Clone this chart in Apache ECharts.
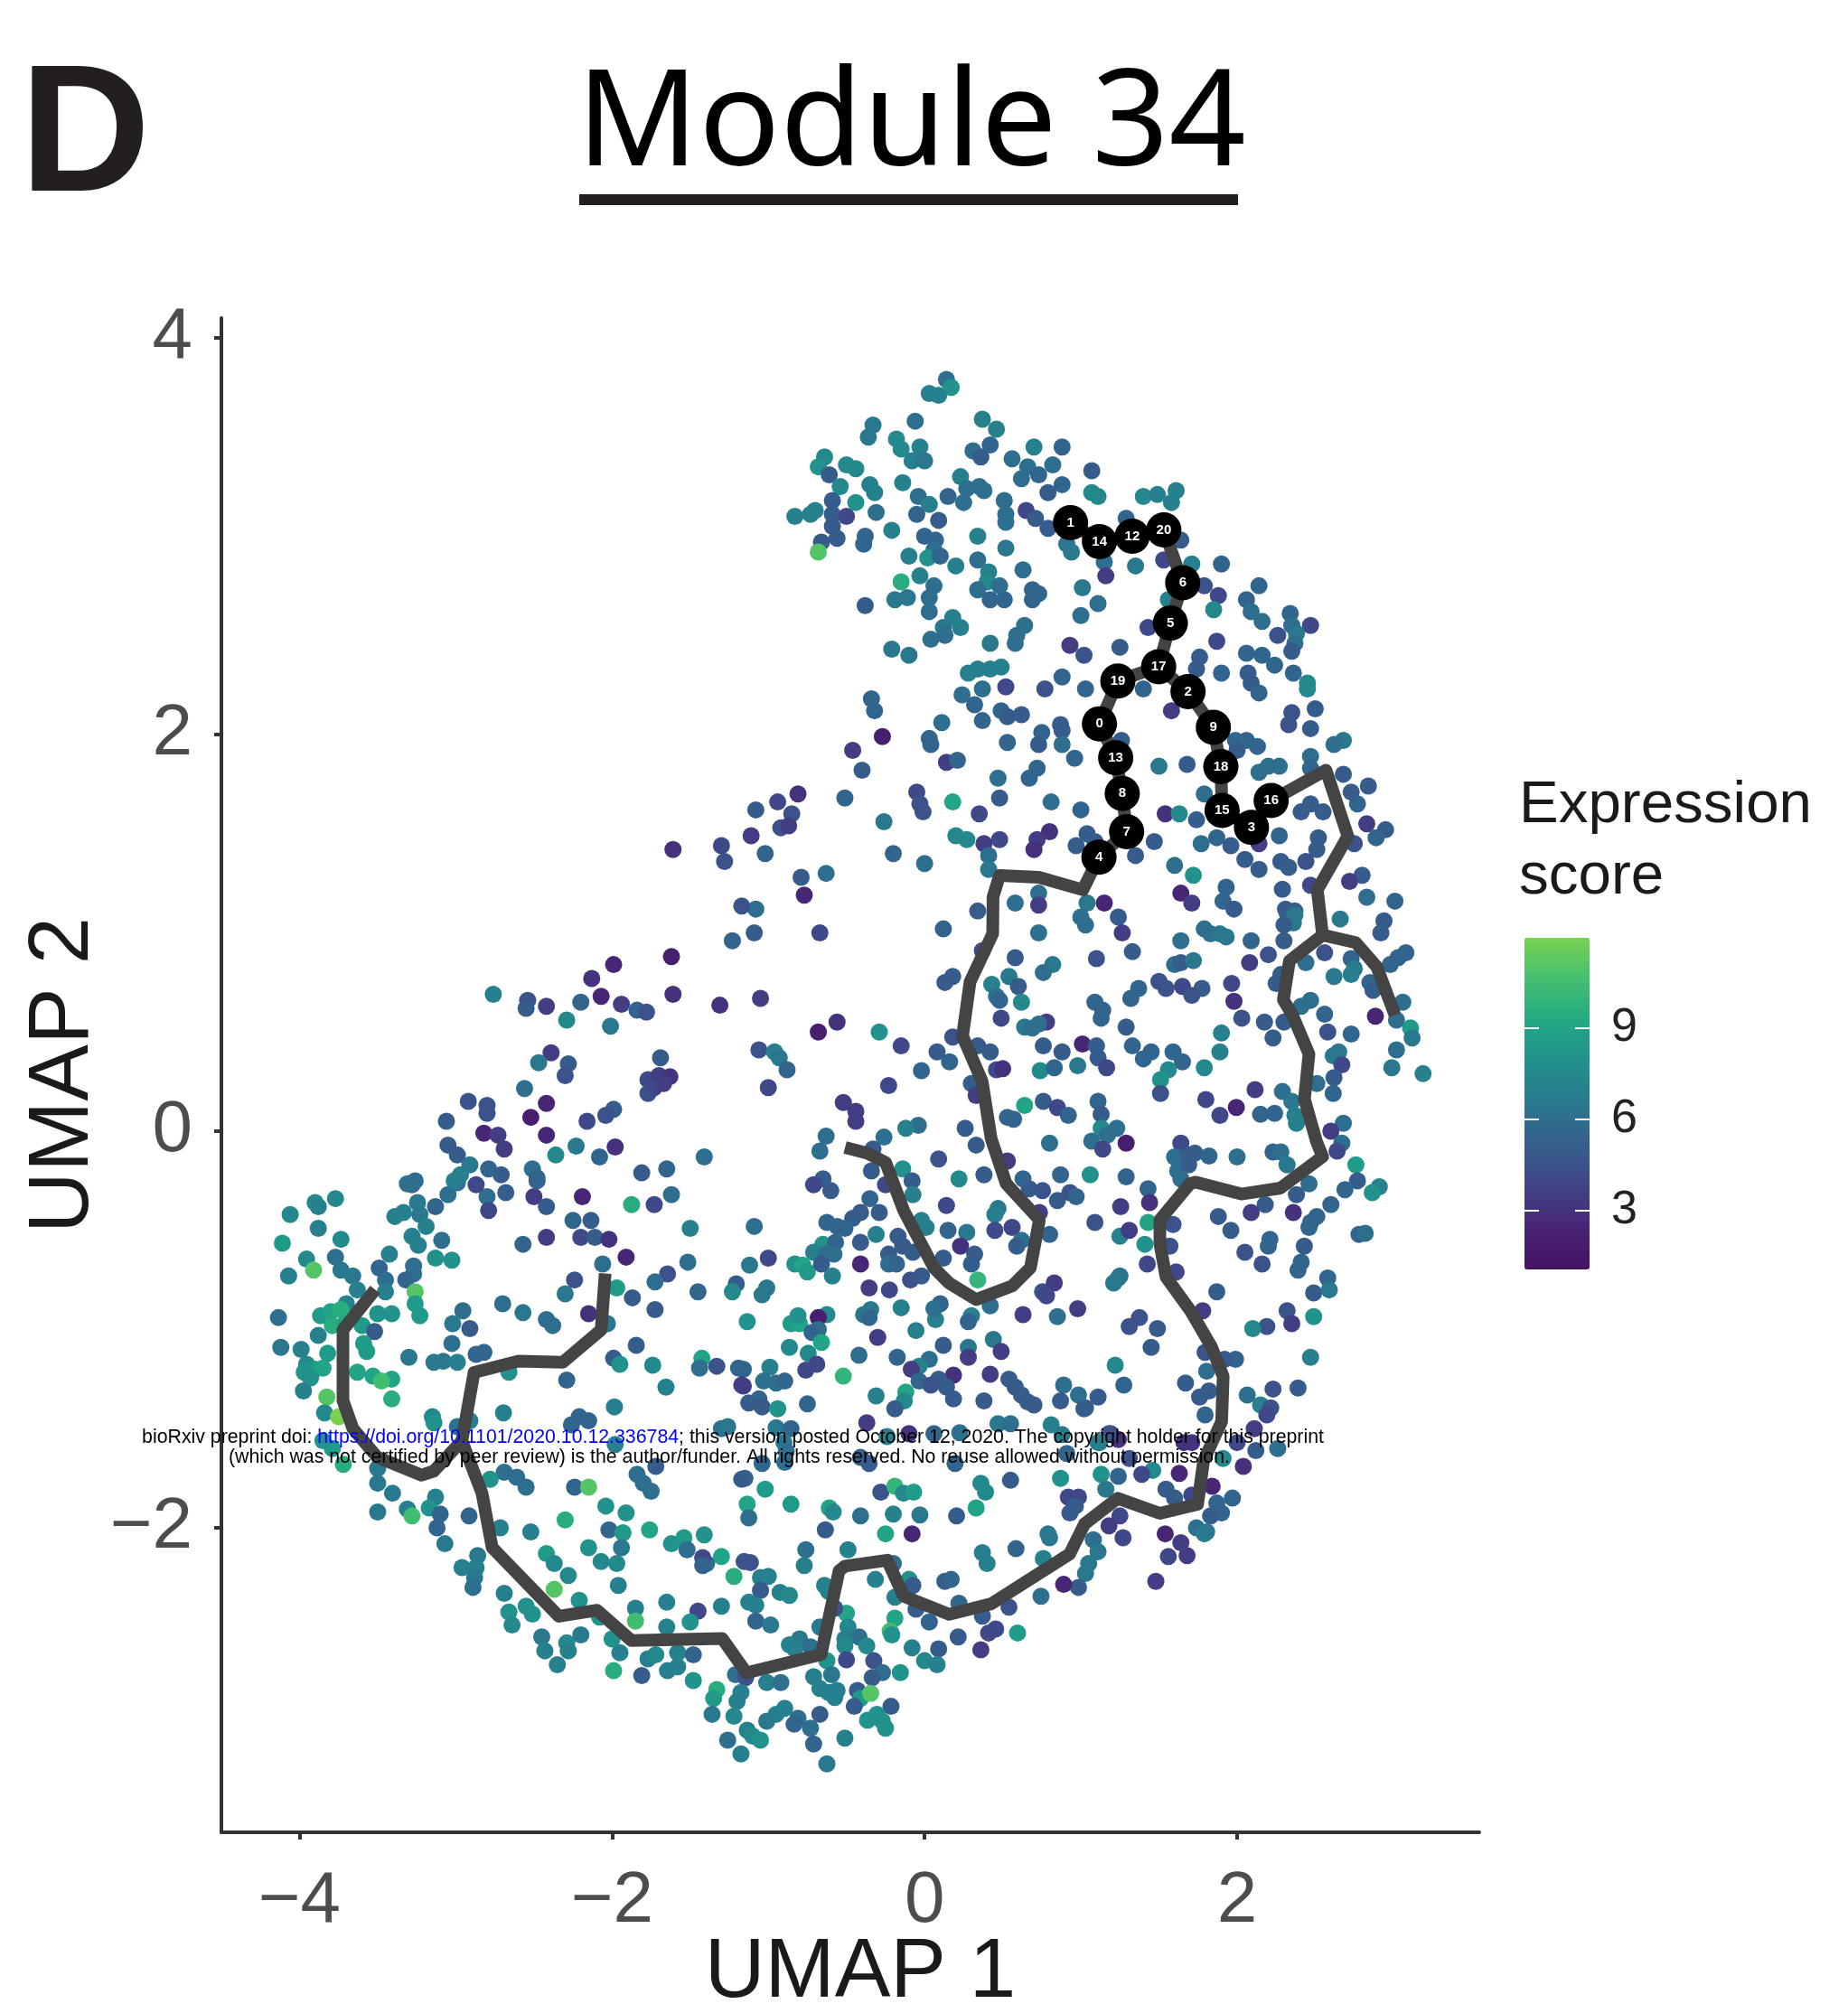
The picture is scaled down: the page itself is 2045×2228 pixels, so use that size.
<!DOCTYPE html>
<html lang="en">
<head>
    <meta charset="UTF-8">
    <title>Module 34</title>
    <style>
        html,body{margin:0;background:#fff}
        #main{width:2045px;height:2228px}
    </style>
</head>
<body>
<div id="main"></div>
<script src="https://cdn.jsdelivr.net/npm/echarts@6/dist/echarts.min.js"></script>
<script>
    // cells: [UMAP 1, UMAP 2, expression score]
    const cellsTop=[
        [0.03,3.72,7],[0.09,3.71,7],[0.14,3.79,6],[0.17,3.75,8],[-0.33,3.56,6.5],[-0.36,3.50,6.5],[-0.06,3.58,6],[0.37,3.59,7],[0.46,3.54,7],[0.42,3.46,5.5],[0.31,3.43,6],[0.36,3.40,5],[0.70,3.45,7],[0.88,3.45,5.5],[-0.18,3.49,7.5],[-0.15,3.44,7.5],[-0.03,3.45,7],[-0.08,3.38,7],[0,3.38,6.5],[-0.64,3.40,7.5],[-0.68,3.35,8],[-0.50,3.36,7.5],[-0.44,3.34,7.5],[0.56,3.39,6],[0.66,3.35,6],[0.62,3.29,6],[0.82,3.36,6],[1.07,3.33,5],[0.23,3.30,7],[0.27,3.24,6],[0.35,3.25,6],[0.38,3.23,6],[0.73,3.31,5.5],[0.88,3.26,5.5],[0.79,3.22,5],[-0.61,3.31,5],[-0.54,3.25,7.5],[-0.35,3.26,7],[-0.32,3.22,7],[-0.14,3.27,7],[-0.04,3.20,6],[0.15,3.20,5.5],[0.25,3.17,6],[0.03,3.16,7],[-0.05,3.11,5.5],[1.07,3.22,7.5],[1.11,3.20,7.5],[1.40,3.20,7.5],[1.49,3.21,7],[1.61,3.23,7],[1.58,3.17,7],[-0.44,3.17,8],[-0.59,3.18,5],[-0.70,3.13,7],[-0.83,3.10,7],[-0.73,3.11,7],[-0.59,3.11,5],[-0.50,3.10,4],[-0.31,3.12,6],[0.51,3.18,6],[0.52,3.11,6],[0.52,3.07,6],[0.65,3.13,4],[0.71,3.09,5],[0.09,3.08,5],[0.79,3.04,5],[-0.59,3.05,5],[-0.21,3.03,7],[-0.38,3.00,5.5],[-0.39,2.96,5.5],[-0.56,2.99,5],[-0.66,2.97,5],[-0.68,2.92,11],[0,3,5.5],[0.07,2.98,5.5],[0.34,3.00,7],[0.52,2.94,6.5],[0.91,2.96,6.5],[0.94,2.92,6.5],[1.29,3.09,5.5],[1.64,2.98,5],
        [0.06,2.93,6],[-0.10,2.90,7],[0.02,2.89,8],[0.10,2.90,5.5],[0.34,2.88,6],[0.20,2.85,7],[-0.03,2.80,7],[0.63,2.83,6],[1.15,2.87,6],[1.16,2.80,3.5],[1.35,2.85,6.5],[1.53,2.88,4],[1.71,2.86,7],[1.90,2.86,5.5],[0.41,2.82,7],[-0.15,2.77,9.5],[0.40,2.77,7.5],[0.48,2.75,6],[0.34,2.73,6],[0.42,2.68,5.5],[0.51,2.68,5.5],[0.69,2.73,5.5],[0.73,2.71,5.5],[0.69,2.68,5.5],[1.01,2.74,6.5],[0.06,2.75,6],[0.03,2.69,6],[-0.11,2.69,6.5],[-0.19,2.68,6.5],[-0.38,2.65,5],[1.11,2.66,6],[1.00,2.60,6],[2.14,2.75,5.5],[1.79,2.75,4.5],[1.88,2.70,4],[2.06,2.68,5.5],[1.85,2.63,7.5],[1.56,2.68,7],[2.09,2.62,6],[2.16,2.57,6],[0.03,2.62,6],[0.18,2.59,7],[0.23,2.54,7],[0.12,2.54,6.5],[0.04,2.48,6],[0.13,2.50,6],[0.64,2.55,6],[0.59,2.50,6],[0.58,2.46,6],[0.42,2.46,6.5],[2.34,2.61,5.5],[2.35,2.55,6],[2.47,2.55,4],[2.26,2.50,4.5],[2.38,2.51,6.5],[2.37,2.46,6],[2.35,2.42,5],[1.87,2.47,4],[1.43,2.54,4],[0.93,2.45,3.5],[1.02,2.40,4.5],[1.25,2.44,5],[-0.21,2.43,6.5],[-0.10,2.40,6.5],[2.06,2.41,5.5],[2.16,2.40,5.5],[2.24,2.35,5.5],[2.36,2.31,5.5],[2.45,2.26,7.5],[2.45,2.23,7.5],[1.76,2.39,5],[1.74,2.33,5],[1.90,2.31,5.5],[2.07,2.31,5],[2.09,2.26,5],[2.14,2.21,5.5]
    ];
    const cellsUpperMid=[
        [0.49,2.34,7],[0.42,2.33,7],[0.34,2.33,7],[0.28,2.31,7],[0.88,2.29,5.5],[0.77,2.23,4.5],[1.03,2.23,5.5],[0.52,2.24,4],[0.37,2.23,6],[0.24,2.20,6],[0.32,2.15,5.5],[1.40,2.23,5.5],[1.58,2.12,3.5],[-0.34,2.18,5.5],[-0.32,2.12,5.5],[0.49,2.12,5.5],[0.53,2.09,5],[0.62,2.10,5],[0.37,2.07,5.5],[0.11,2.06,6],[2.35,2.11,4.5],[2.50,2.13,5],[2.33,2.05,4.5],[2.47,2.03,5],[0.87,2.05,5],[0.75,2.01,5.5],[0.88,2.02,5],[0.73,1.95,5],[0.88,1.95,6],[0.03,1.98,5.5],[0.04,1.95,5.5],[-0.27,1.99,2],[0.53,1.96,5.5],[-0.46,1.92,3.5],[1.26,1.97,5],[1.99,1.97,5.5],[2.06,1.97,5.5],[2.13,1.94,5.5],[2.00,1.92,5],[2.68,1.97,6.5],[2.62,1.95,6],[0.96,1.88,5.5],[0.14,1.86,3.5],[0.21,1.87,5.5],[-0.40,1.82,5],[1.50,1.84,6.5],[1.68,1.85,5],[2.47,1.89,6],[2.14,1.81,6],[2.20,1.84,6],[2.27,1.84,6],[2.47,1.83,5.5],[2.68,1.80,5],[0.72,1.83,5.5],[0.67,1.78,5.5],[0.47,1.78,6],[2.84,1.74,5],[-0.05,1.71,4],[-0.03,1.65,4.5],[-0.01,1.61,4.5],[-0.81,1.70,3],[-0.94,1.66,4],[-0.85,1.60,4.5],[-1.08,1.62,5],[-0.51,1.68,5.5],[0.48,1.68,5],[0.18,1.66,9],[0.81,1.66,6],[1.00,1.62,5.5],[0.35,1.60,4],[-0.26,1.56,6.5],[1.54,1.60,3],[1.63,1.60,7.5],[1.74,1.57,5],[1.79,1.70,6],[2.47,1.65,5],[2.55,1.61,5],[2.41,1.61,5],[2.77,1.65,5.5],[2.73,1.71,5],[-0.92,1.53,4.5],[-0.87,1.54,3.5],[-1.11,1.49,3.5],[0.20,1.49,7.5],[0.27,1.47,7.5],[0.48,1.47,4],[0.38,1.45,3.5],[0.80,1.51,3],[0.72,1.47,3.5],[0.70,1.42,3],[1.04,1.50,5],[0.97,1.44,5],[1.09,1.46,5],[1.47,1.46,5],[2.83,1.55,3.5],[2.95,1.52,5],[2.89,1.48,5.5],[2.27,1.49,5.5],[1.77,1.45,6],[1.87,1.48,5.5],[1.96,1.44,5],[2.14,1.45,3.5],[2.52,1.48,5],[2.75,1.45,4.5],[2.51,1.42,5],[-1.02,1.40,5.5],[-0.20,1.40,5.5],[1.35,1.39,5],[0.41,1.39,6],[2.05,1.37,5],[2.28,1.36,5],[2.44,1.36,4.5],[2.14,1.32,5],[0,1.35,6],[1.60,1.34,6],[0.41,1.32,6.5],[1.72,1.29,8],[2.33,1.33,5],[2.80,1.29,5],[-0.63,1.30,6],[-0.79,1.28,5],[-0.77,1.19,2.5],[2.72,1.26,3.5],[2.47,1.24,4],[2.29,1.22,5],[1.93,1.23,5.5],[1.64,1.20,2.5],[2.83,1.18,6],[3.01,1.16,5.5],[1.91,1.16,5.5],[1.71,1.15,3.5],[0.73,1.20,6],[0.58,1.15,6],[1.15,1.15,2.5],[1.04,1.15,6.5],[1.98,1.12,5],[-1.08,1.12,6],[0.34,1.11,5],[0.73,1.14,3.5],[2.31,1.12,5],[2.37,1.11,5]
    ];
    const cellsCenter=[
        [-1.09,1.00,5],[-0.67,1.00,4],[0.12,1.02,5.5],[0.73,1.00,6],[0.58,0.875,5],[0.37,0.91,4],[1.10,0.87,4.5],[1.00,1.08,6],[1.03,1.04,6],[0.82,0.84,6.5],[0.76,0.80,6],[0.54,0.78,6.5],[0.43,0.74,7],[0.60,0.73,5],[0.18,0.78,5],[0.13,0.75,5],[0.46,0.68,6],[0.48,0.66,5.5],[0.62,0.65,7.5],[1.09,0.65,5.5],[1.14,0.61,5.5],[1.13,0.57,5.5],[-1.05,0.67,3.5],[0.49,0.57,4],[0.78,0.55,3.5],[0.64,0.525,6.5],[0.69,0.52,6],[0.73,0.54,6],[-0.56,0.55,3],[-0.68,0.50,2],[-0.29,0.50,8],[0.18,0.475,4.5],[-1.06,0.41,4.5],[-0.96,0.40,7],[-0.93,0.37,6.5],[-0.88,0.31,5.5],[-0.15,0.43,4],[0.76,0.43,5],[1.01,0.44,2.5],[1.10,0.43,5],[0.88,0.40,5],[0.08,0.40,5],[0.16,0.35,5.5],[0.34,0.43,5],[0.42,0.40,5],[0.46,0.31,4],[0.50,0.315,3],[1.11,0.37,5],[1.165,0.32,4],[0.98,0.33,6.5],[0.74,0.305,7.5],[0.83,0.32,5.5],[-0.02,0.305,5.5],[-0.23,0.23,4],[-1.00,0.22,4],[0.30,0.24,5],[0.33,0.18,3.5],[-0.52,0.145,3.5],[-0.44,0.10,3.5],[-0.44,0.05,3.5],[0.64,0.13,9],[0.76,0.15,5],[0.85,0.12,4],[0.92,0.08,5.5],[1.11,0.15,5.5],[1.13,0.085,5],[0.53,0.07,5.5],[0.57,0.06,5.5],[-0.04,0.03,6],[-0.12,0.015,7],[0.26,0.015,5],[1.13,0.015,7.5],[1.23,0.015,6],[1.17,-0.02,6],[1.07,-0.05,6],[1.14,-0.09,4],[-0.63,-0.025,6],[-0.67,-0.10,6],[-0.26,-0.03,6],[0.33,-0.07,5],[0.80,-0.06,6],[0.09,-0.14,4.5],[-0.33,-0.09,5],[0.53,-0.15,3.5],[-0.14,-0.19,8],[-0.34,-0.20,5],[0.22,-0.24,7.5],[0.38,-0.22,5],[0.87,-0.22,5.5],[1.06,-0.22,8],[-0.08,-0.25,5],[-0.25,-0.27,4],[-0.075,-0.32,7],[-0.65,-0.24,5],[-0.71,-0.27,4],[-0.60,-0.30,5],[0.63,-0.24,5.5],[0.67,-0.29,5],[0.755,-0.30,4.5],[0.85,-0.35,5],[0.93,-0.31,4.5],[0.97,-0.33,5.5],[-0.35,-0.34,5.5],[0.14,-0.375,4],[0.735,-0.41,3.5],[0.47,-0.39,6.5],[0.45,-0.42,7],[-0.29,-0.41,5],[-0.41,-0.41,5],[-0.46,-0.44,5],[-0.02,-0.45,7],[0.01,-0.485,7],[1.09,-0.46,4.5],[-1.09,-0.48,6],[-0.625,-0.46,5.5],[-0.56,-0.48,5.5],[-0.51,-0.49,5.5],[0.15,-0.50,5.5],[0.27,-0.51,6.5],[0.45,-0.50,4],[0.56,-0.485,4],[0.80,-0.52,5.5],[-0.31,-0.52,7],[-0.17,-0.53,5],[0.62,-0.55,6],[-0.65,-0.57,8],[-0.41,-0.56,5],[-0.57,-0.56,5.5],[-0.71,-0.61,7],[0.23,-0.58,3],[0.59,-0.58,5],[1.25,-0.53,7],[-0.14,-0.58,5],[-0.58,-0.62,6],[-0.63,-0.62,6],[-0.075,-0.61,5],[-0.23,-0.62,5],[0.32,-0.62,5],[0.12,-0.64,5],[-1.00,-0.64,4],[-0.41,-0.67,2.5],[-1.12,-0.675,6.5],[-0.83,-0.67,8],[-0.78,-0.675,9],[-0.75,-0.71,8.5],[-0.66,-0.67,5],[-0.59,-0.73,7],[-0.23,-0.67,6],[-0.18,-0.67,5.5],[0.30,-0.67,5],[0.34,-0.75,10],[-0.02,-0.73,5],[-0.09,-0.75,4.5]
    ];
    const cellsRight=[
        [1.24,1.08,5],[1.265,1.00,3.5],[1.64,0.96,6],[1.33,0.905,5],[1.79,1.02,6],[1.83,0.995,6],[1.89,0.995,6.5],[1.93,0.98,6.5],[2.09,0.96,5.5],[2.20,0.89,4.5],[2.08,0.85,3.5],[2.30,0.96,5],[2.32,1.10,5],[2.37,1.09,6.5],[2.36,1.05,6.5],[2.30,1.04,5],[2.66,1.07,6.5],[2.94,1.06,5],[2.92,1.00,5],[1.60,0.84,6],[1.64,0.85,5],[1.72,0.86,6.5],[2.44,0.85,6],[2.56,0.90,4.5],[2.73,0.87,5.5],[2.75,0.82,6.5],[2.73,0.79,7],[2.62,0.78,6.5],[3.08,0.90,5.5],[3.03,0.875,5.5],[2.98,0.84,5.5],[2.28,0.79,5],[2.25,0.745,5],[2.85,0.75,5.5],[2.87,0.71,5],[1.50,0.755,4.5],[1.545,0.72,4.5],[1.65,0.73,4],[1.775,0.72,5],[1.71,0.685,4.5],[1.37,0.72,5.5],[1.32,0.67,5.5],[1.965,0.745,4],[1.98,0.655,3],[3.06,0.65,6],[2.47,0.66,6],[2.41,0.63,6],[2.885,0.58,2.5],[2.03,0.57,4.5],[2.56,0.59,5.5],[2.175,0.55,5],[2.30,0.55,5],[3.02,0.56,6],[1.29,0.525,5],[2.58,0.50,4.5],[2.73,0.49,5.5],[3.11,0.52,8.5],[3.12,0.47,6.5],[2.23,0.47,5],[1.90,0.495,7],[1.89,0.40,7],[1.33,0.43,5.5],[1.45,0.40,5.5],[1.40,0.365,5.5],[1.59,0.40,5.5],[1.65,0.35,5.5],[3.02,0.41,6],[2.65,0.40,6.5],[2.615,0.38,6.5],[2.67,0.335,4],[1.79,0.32,7.5],[1.56,0.31,7.5],[1.51,0.26,8],[2.99,0.32,6.5],[3.19,0.29,7],[2.62,0.27,5],[2.51,0.24,6],[2.115,0.21,3.5],[1.51,0.19,4.5],[2.615,0.19,5.5],[2.29,0.20,6],[1.80,0.16,4],[2.35,0.15,6.5],[1.995,0.12,2.5],[2.15,0.085,5.5],[2.24,0.09,5.5],[1.89,0.08,4],[2.37,0.08,7],[2.38,0.04,7],[2.68,0.04,6],[2.60,0,3.5],[1.29,-0.06,2],[2.67,-0.06,6],[2.64,-0.10,4],[1.64,-0.06,4],[2.23,-0.105,5.5],[2.28,-0.105,6],[1.60,-0.13,6],[1.69,-0.12,5],[1.73,-0.11,5],[1.82,-0.125,5.5],[2.00,-0.13,6],[2.32,-0.17,6.5],[2.76,-0.17,8.5],[1.62,-0.20,6],[1.69,-0.17,5],[1.29,-0.23,5.5],[2.77,-0.25,5],[1.64,-0.24,6],[1.43,-0.29,5.5],[2.46,-0.265,6],[2.69,-0.295,5.5],[2.91,-0.28,7],[2.865,-0.31,8],[2.38,-0.32,5],[1.44,-0.36,3],[1.255,-0.38,3.5],[2.18,-0.37,5],[2.09,-0.41,3.5],[2.60,-0.37,5.5],[2.36,-0.41,3],[1.88,-0.43,5],[2.51,-0.43,5.5],[2.47,-0.46,5.5],[1.96,-0.50,5],[1.59,-0.47,4.5],[1.43,-0.46,9],[1.31,-0.50,3.5],[1.41,-0.57,8],[1.57,-0.58,4.5],[2.46,-0.485,5.5],[2.78,-0.52,5.5],[2.82,-0.515,6],[2.21,-0.545,5.5],[2.20,-0.58,5.5],[2.43,-0.58,5],[2.05,-0.61,4.5],[1.425,-0.67,4],[2.16,-0.67,4.5],[2.41,-0.66,5.5],[2.39,-0.70,5.5],[1.61,-0.71,4],[1.25,-0.73,6],[2.58,-0.74,5.5],
        [1.24,-0.74,6.5],[1.21,-0.765,6.5],[1.87,-0.81,5],[2.59,-0.80,6.5],[2.49,-0.815,5],[1.78,-0.905,3.5],[2.32,-0.905,4.5],[2.35,-0.97,3.5],[2.49,-0.935,8],[2.19,-0.985,4.5],[2.10,-0.995,7.5],[1.375,-0.94,4.5],[1.31,-0.985,4.5],[1.49,-0.995,5],[1.45,-1.09,5],[1.795,-1.115,4.5],[1.99,-1.15,5.5],[1.92,-1.15,5],[2.47,-1.14,7],[1.22,-1.18,7.5],[1.275,-1.28,5.5],[1.805,-1.21,6],[1.67,-1.27,5],[1.76,-1.34,5],[1.82,-1.31,5],[2.23,-1.30,4.5],[2.39,-1.295,5],[2.065,-1.33,6],[2.15,-1.38,7],[2.215,-1.395,4.5],[2.19,-1.43,4],[1.795,-1.43,5.5],[1.11,-1.34,5],[1.03,-1.395,5],[2.11,-1.50,3.5],[2.00,-1.57,4],[2.12,-1.61,5],[2.26,-1.60,6],[1.19,-1.525,3.5],[1.24,-1.555,3],[1.11,-1.57,7],[1.66,-1.57,3],[1.71,-1.57,3],[1.31,-1.65,4.5],[1.91,-1.65,7.5],[2.04,-1.69,3],[1.46,-1.71,7.5],[1.39,-1.73,4],[1.63,-1.725,2.5],[1.13,-1.73,8],[1.24,-1.74,5.5],[1.84,-1.79,2.5],[1.545,-1.805,5],[1.16,-1.805,6.5],[1.60,-1.85,5],[1.71,-1.835,4],[1.97,-1.85,5.5],[1.87,-1.875,5.5],[1.90,-1.925,5.5],[1.83,-1.94,5],[1.25,-1.94,4],[1.18,-1.99,3.5],[1.74,-2.00,6],[1.79,-2.03,7],[1.805,-2.02,6.5],[1.54,-2.03,2.5],[1.27,-2.05,4],[1.08,-2.06,6],[1.11,-2.12,6.5],[1.64,-2.075,3.5],[1.56,-2.145,4],[1.68,-2.14,3.5],[1.05,-2.18,6.5],[1.48,-2.27,3.5],[1.03,-2.23,6.5]
    ];
    const cellsLowerMid=[
        [-0.355,-0.79,3.5],[-0.225,-0.80,4],[-1.01,-0.79,6.5],[-1.04,-0.825,6.5],[0.755,-0.81,4.5],[0.83,-0.765,3.5],[0.78,-0.83,4],[0.98,-0.895,3.5],[-0.15,-0.89,7],[0.42,-0.88,6],[0.10,-0.87,5.5],[0.07,-0.95,7],[0.06,-0.895,6],[0.30,-0.93,7],[0.28,-0.96,5.5],[0.63,-0.925,3.5],[0.85,-0.935,6],[-0.39,-0.925,6.5],[-0.345,-0.90,6.5],[-0.355,-0.94,5.5],[-0.625,-0.925,7.5],[-1.135,-0.96,8],[-0.855,-0.97,8.5],[-0.80,-0.97,9],[-0.81,-0.93,8],[-0.68,-0.94,2],[-0.68,-1.00,6],[-0.72,-1.015,5.5],[-0.055,-1.005,7],[-0.30,-1.04,3.5],[-0.66,-1.065,9],[-0.865,-1.09,7.5],[0.12,-1.08,5],[0.28,-1.09,6.5],[0.28,-1.14,3.5],[0.44,-1.05,6.5],[0.49,-1.11,3.5],[-0.745,-1.12,7.5],[-0.42,-1.13,6],[-0.175,-1.14,5.5],[-0.69,-1.175,4],[-0.76,-1.205,4],[0.03,-1.15,6],[-0.035,-1.185,7],[-0.085,-1.20,3.5],[-0.99,-1.19,7],[-1.16,-1.20,5.5],[-0.52,-1.235,10],[0.185,-1.23,3],[0.42,-1.225,3.5],[-1.03,-1.26,6],[-0.95,-1.27,6],[-0.895,-1.26,5.5],[-0.035,-1.26,5.5],[0.09,-1.25,5],[0.04,-1.28,4.5],[0.14,-1.29,5],[0.54,-1.25,5],[0.58,-1.29,5],[0.62,-1.33,5],[0.66,-1.365,5],[0.70,-1.38,5],[0.89,-1.28,6],[0.985,-1.33,6],[0.87,-1.36,5],[1.02,-1.40,5],[-1.16,-1.285,3.5],[-0.31,-1.335,7],[-0.12,-1.315,9],[-0.13,-1.36,7.5],[0.185,-1.35,5],[0.38,-1.36,5],[-1.06,-1.35,5.5],[-1.125,-1.37,5],[-1.04,-1.39,5],[-0.94,-1.40,8],[-0.75,-1.375,5.5],[-0.19,-1.40,5],[-0.37,-1.47,3.5],[-0.95,-1.495,6.5],[-0.855,-1.50,5.5],[0.47,-1.475,6.5],[0.55,-1.475,6],[0.81,-1.48,7],[0.88,-1.53,6.5],[-0.10,-1.525,3],[0.06,-1.525,5.5],[0.225,-1.52,6],[-0.24,-1.54,7],[1.18,-1.525,4.5],[-0.90,-1.57,6.5],[-0.885,-1.615,6],[1.12,-1.57,7],[0.91,-1.625,5.5],[-0.41,-1.645,5],[-0.355,-1.675,5],[0.195,-1.675,5.5],[-1.04,-1.675,5.5],[-0.895,-1.67,6],[-1.15,-1.75,5.5],[0.87,-1.75,8],[0.55,-1.76,5],[0.36,-1.775,7.5],[0.39,-1.82,7.5],[-1.02,-1.805,8.5],[-0.28,-1.82,4.5],[-0.19,-1.79,10],[-0.135,-1.825,7.5],[-0.07,-1.82,8.5],[0.92,-1.845,4],[0.985,-1.845,4],[0.965,-1.89,5],[0.93,-1.925,5],[-0.855,-1.88,8.5],[-1.135,-1.88,9],[-0.61,-1.90,9],[-0.585,-1.92,7.5],[0.33,-1.90,9],[-1.125,-1.95,6],[-0.41,-1.94,6],[-0.20,-1.93,7],[-0.03,-1.935,6.5],[0.205,-1.94,5],[-0.635,-2.01,5],[-0.25,-2.03,9],[-0.08,-2.03,2.5],[0.79,-2.03,6.5]
    ];
    const cellsBottom=[
        [-0.76,-2.11,6],[-0.49,-2.11,7],[0.80,-2.05,6.5],[0.585,-2.105,5.5],[0.37,-2.125,7],[0.40,-2.18,7],[0.76,-2.155,7],[-1.30,-2.145,9],[-1.155,-2.17,4.5],[-1.115,-2.175,4.5],[-0.77,-2.19,7],[-1.395,-2.18,6],[-0.20,-2.18,6],[-1.22,-2.245,9.5],[-1.05,-2.25,7],[-1.00,-2.245,7],[0.13,-2.27,5],[0.17,-2.26,5.5],[-0.10,-2.26,8],[-0.075,-2.29,5],[-0.315,-2.26,7],[-0.64,-2.29,7],[-0.615,-2.32,7],[-1.05,-2.315,5],[-0.925,-2.325,7],[-0.865,-2.34,7.5],[0.985,-2.30,5],[0.89,-2.285,2.5],[-0.19,-2.35,7],[0.745,-2.345,6],[-1.30,-2.395,7],[-1.125,-2.375,7],[-1.08,-2.39,7],[0.22,-2.38,5.5],[0.54,-2.40,4.5],[-0.055,-2.41,5],[-0.50,-2.43,9],[-0.575,-2.405,4.5],[-0.19,-2.455,9],[0.37,-2.445,5],[0.03,-2.475,5.5],[-1.08,-2.47,5.5],[-0.985,-2.49,6.5],[-0.67,-2.50,6.5],[-0.49,-2.50,7.5],[-0.22,-2.52,10.5],[-0.21,-2.54,8],[0.455,-2.51,4],[0.41,-2.53,4],[0.595,-2.53,8.5],[0.215,-2.55,5],[-0.42,-2.55,6],[-0.37,-2.595,7.5],[-0.80,-2.56,6.5],[-0.865,-2.59,7],[-0.83,-2.61,7],[-0.73,-2.60,6],[-0.51,-2.56,7],[-0.51,-2.595,7.5],[-0.08,-2.605,7],[0.09,-2.61,5],[0.36,-2.615,3.5],[-0.50,-2.665,4],[-0.325,-2.67,4.5],[-0.625,-2.67,8],[0,-2.67,7.5],[0.08,-2.69,7],[-0.27,-2.73,6],[-0.335,-2.755,5],[-0.155,-2.73,8],[-1.21,-2.74,6],[-1.145,-2.755,4.5],[-1.01,-2.78,7],[-0.92,-2.78,6],[-0.71,-2.75,7],[-0.595,-2.74,6.5],[-0.67,-2.81,7],[-0.56,-2.82,7],[-0.575,-2.855,7],[-0.615,-2.83,7],[-1.33,-2.815,9.5],[-1.35,-2.86,8.5],[-1.175,-2.83,7],[-1.20,-2.875,7],[-0.43,-2.82,5],[-0.41,-2.86,8.5],[-0.345,-2.835,11],[-0.45,-2.90,5],[-0.215,-2.90,5],[-1.36,-2.94,6.5],[-1.22,-2.95,7.5],[-0.895,-2.91,7],[-0.95,-2.94,7],[-1.01,-2.975,6.5],[-0.67,-2.94,5],[-0.81,-2.96,6],[-0.835,-2.99,5.5],[-0.73,-3.01,6],[-0.305,-2.94,8],[-0.365,-2.97,8],[-0.27,-2.975,8],[-0.25,-3.01,8],[-1.135,-3.02,7],[-1.10,-3.05,7.5],[-1.05,-3.07,8],[-1.26,-3.07,6],[-0.71,-3.09,5.5],[-0.51,-3.06,7],[-1.175,-3.14,7],[-0.625,-3.19,6.5]
    ];
    const cellsLeft=[
        [-3.28,-0.27,6],[-3.90,-0.36,7.5],[-3.77,-0.34,7.5],[-3.88,-0.38,7],[-4.06,-0.42,7.5],[-3.88,-0.49,7],[-3.735,-0.545,7.5],[-4.11,-0.565,8.5],[-3.955,-0.645,7.5],[-3.91,-0.70,11],[-3.77,-0.635,6],[-3.735,-0.70,6.5],[-3.66,-0.73,6.5],[-4.07,-0.73,7],[-3.63,-0.80,7],[-3.70,-0.87,7],[-3.49,-0.69,5.5],[-3.45,-0.75,6],[-3.45,-0.81,7],[-3.425,-0.62,7],[-3.39,-0.43,7],[-3.335,-0.41,7],[-3.245,-0.36,6.5],[-3.23,-0.42,6.5],[-3.13,-0.38,5.5],[-3.05,-0.32,6],[-2.99,-0.26,6],[-3.19,-0.48,7],[-3.28,-0.53,7],[-3.24,-0.575,7],[-3.09,-0.55,6],[-3.13,-0.64,8],[-3.025,-0.65,8],[-3.27,-0.68,6],[-3.27,-0.72,6],[-3.32,-0.75,5.5],[-3.26,-0.81,11],[-3.26,-0.87,8.5],[-3.23,-0.93,8.5],[-4.135,-0.94,6],[-3.865,-0.93,8.5],[-3.80,-0.91,9],[-3.735,-0.90,9.5],[-3.79,-0.98,9.5],[-3.71,-0.97,9],[-3.60,-0.98,8.5],[-3.50,-0.92,8],[-3.41,-0.92,8],[-3.52,-1.01,5],[-3.88,-1.03,7],[-4.12,-1.09,6.5],[-3.59,-1.07,8.5],[-3.57,-1.11,8.5],[-3.99,-1.10,7],[-3.82,-1.12,8.5],[-3.955,-1.175,7.5],[-3.90,-1.20,8.5],[-3.85,-1.195,9],[-3.93,-1.245,8],[-3.97,-1.215,8],[-3.63,-1.215,9],[-3.53,-1.235,9],[-3.41,-1.25,9],[-3.475,-1.26,10.5],[-3.975,-1.31,7],[-3.825,-1.34,11],[-3.41,-1.35,9.5],[-3.84,-1.42,7.5],[-3.75,-1.44,12],[-3.30,-1.14,6.5],[-3.14,-1.165,6.5],[-3.08,-1.16,6.5],[-2.99,-1.165,7],[-2.87,-1.125,5.5],[-2.82,-1.115,5.5],[-2.70,-0.87,6],[-2.57,-0.915,6.5],[-2.42,-0.95,6],[-2.38,-0.98,6],[-2.955,-0.905,6],[-3.02,-0.97,6.5],[-2.91,-0.995,5],[-3.025,-1.07,6],[-2.29,-1.255,5.5],[-2.66,-1.215,8],[-2.24,-0.75,4.5],[-2.30,-0.82,6.5],[-2.15,-0.92,3],[-2.03,-0.97,6.5],[-1.97,-0.79,8.5],[-1.87,-0.84,5],[-1.725,-0.90,5],[-1.845,-1.08,5],[-1.99,-1.145,5],[-1.95,-1.175,8],[-1.74,-1.18,7.5],[-1.655,-1.29,7],[-1.425,-1.145,9],[-1.44,-1.195,6],[-1.33,-1.185,4.5],[-1.19,-1.195,5.5],[-1.17,-1.28,3.5],[-1.985,-1.39,7],[-2.695,-1.42,7],[-3.15,-1.44,7.5],[-3.14,-1.47,8],[-2.26,-1.48,5.5],[-2.21,-1.44,5.5],[-2.15,-1.46,5.5],[-1.30,-1.50,6],[-1.26,-1.49,6.5],[-2.99,-1.49,6],[-2.91,-1.46,7],[-1.98,-1.58,7],[-1.72,-1.69,5],[-1.84,-1.73,6],[-1.80,-1.775,6],[-1.75,-1.815,6],[-2.69,-1.72,6],[-2.61,-1.745,6],[-2.55,-1.795,6],[-1.17,-1.755,5],[-2.24,-1.795,5.5],[-2.15,-1.795,11],[-3.79,-1.60,8.5],[-3.72,-1.68,9.5],[-3.85,-1.56,8],[-3.50,-1.70,6.5],[-3.50,-1.775,6.5],[-3.405,-1.825,6.5],[-2.78,-1.755,8],[-3.13,-1.845,7],[-3.17,-1.90,8],[-3.10,-1.93,5.5],[-3.12,-2.00,5.5],[-3.50,-1.92,6.5],[-3.31,-1.905,7],[-3.28,-1.94,10.5],[-2.915,-1.94,5.5],[-2.715,-2.00,7],[-3.07,-2.08,6.5],[-2.52,-2.02,7],[-2.30,-1.96,9.5],[-2.04,-1.89,8],[-1.91,-1.925,8],[-2.02,-2.01,5.5],[-1.93,-2.025,8.5],[-1.94,-2.10,6.5],[-1.97,-2.18,7.5],[-2.07,-2.17,7.5],[-2.15,-2.10,8],[-1.76,-2.01,9],[-1.62,-2.08,8],[-1.54,-2.05,8.5],[-1.52,-2.11,6],[-1.41,-2.035,8],[-1.42,-2.15,4],[-1.42,-2.19,5.5],[-2.42,-2.13,8.5],[-2.37,-2.18,7.5],[-2.28,-2.24,7.5],[-2.37,-2.31,11],[-2.96,-2.20,7],[-2.86,-2.14,6.5],[-2.87,-2.20,7],[-2.88,-2.25,6.5],[-2.89,-2.30,6],[-1.96,-2.29,7],[-2.69,-2.33,7],[-2.66,-2.425,8],[-2.64,-2.49,7.5],[-2.55,-2.395,8],[-2.51,-2.435,8],[-2.21,-2.365,8],[-2.45,-2.55,6.5],[-2.43,-2.62,7],[-2.35,-2.69,7],[-2.20,-2.54,6.5],[-2.29,-2.58,7.5],[-2.28,-2.62,7],[-2.08,-2.45,8],[-1.85,-2.405,7],[-1.85,-2.47,10.5],[-1.65,-2.375,7],[-1.65,-2.50,7],[-1.45,-2.42,4],[-1.50,-2.475,8],[-2.00,-2.56,8],[-1.95,-2.63,7],[-1.99,-2.72,9.5],[-1.77,-2.66,7],[-1.72,-2.64,7.5],[-1.58,-2.63,7],[-1.48,-2.64,5.5],[-1.81,-2.745,5],[-1.645,-2.72,7],[-1.58,-2.70,7],[-1.48,-2.77,8],
        [-1.875,-0.37,9.5],[-1.73,-0.37,4],[-1.62,-0.32,6],[-1.50,-0.49,7],[-1.515,-0.66,6],[-1.645,-0.72,4.5],[-1.725,-0.76,6],[-1.45,-0.81,5.5],[-1.205,-0.77,5],[-1.23,-0.81,7.5],[-2.25,-0.45,5.5],[-2.135,-0.45,5],[-2.20,-0.535,4],[-2.11,-0.535,5],[-2.02,-0.545,3],[-1.91,-0.635,2.5],[-2.06,-0.67,6],[-2.19,-0.33,2.5],[-2.57,-0.57,5.5],[-2.42,-0.535,3.5],[-2.50,-0.33,3.5],[-2.42,-0.38,5],[-2.48,-0.25,5.5],[-2.80,-0.33,6],[-2.79,-0.40,4],[-2.68,-0.31,5],[-2.87,-0.27,4]
    ];
    const cellsUpperLeft=[
        [-1.61,1.42,3],[-1.30,1.44,4],[-1.28,1.36,4.5],[-1.17,1.135,4.5],[-1.23,0.96,5.5],[-1.62,0.88,2],[-1.99,0.84,2.5],[-2.13,0.77,3],[-2.07,0.68,2.5],[-1.61,0.69,3],[-1.31,0.635,3],[-2.76,0.69,7],[-2.54,0.66,4.5],[-2.55,0.62,5],[-2.42,0.63,3.5],[-2.20,0.65,5.5],[-1.94,0.64,3.5],[-1.84,0.61,5.5],[-1.78,0.60,4.5],[-2.29,0.56,7.5],[-2.01,0.53,6.5],[-2.39,0.395,3.5],[-2.47,0.345,6.5],[-2.28,0.34,5],[-2.30,0.28,4.5],[-1.69,0.37,5],[-1.77,0.26,4],[-1.70,0.28,3.5],[-1.63,0.275,3],[-1.77,0.19,4.5],[-1.73,0.22,4],[-1.67,0.24,3.5],[-2.56,0.215,6],[-2.92,0.15,4.5],[-2.42,0.14,2.5],[-2.80,0.13,4.5],[-2.80,0.09,4.5],[-1.99,0.11,5],[-2.04,0.08,4.5],[-3.06,0.05,5],[-2.52,0.07,2],[-2.16,0.05,4],[-2.82,-0.01,2.5],[-2.73,-0.02,3.5],[-2.69,-0.09,3.5],[-2.42,-0.02,2.5],[-3.05,-0.07,5],[-2.99,-0.12,5],[-2.23,-0.075,6.5],[-1.98,-0.08,3],[-2.36,-0.12,7.5],[-2.08,-0.13,5.5],[-1.41,-0.13,6],[-1.81,-0.21,5],[-1.65,-0.19,5.5],[-2.91,-0.17,6.5],[-2.97,-0.22,7],[-3.01,-0.25,7],[-2.79,-0.19,5.5],[-2.71,-0.22,5],[-2.51,-0.19,6],[-2.48,-0.235,5.5],[-3.26,-0.25,6],[-3.31,-0.265,6]
    ];

    // trajectory graph, [UMAP 1, UMAP 2]
    const trajectoryLeftLoop=[[-3.516,-0.799],[-3.722,-1.002],[-3.722,-1.358],[-3.658,-1.5],[-3.503,-1.643],[-3.219,-1.734],[-3.141,-1.714],[-2.961,-1.561]];
    const trajectoryLower=[[-2.044,-0.717],[-2.07,-1.002],[-2.315,-1.165],[-2.599,-1.159],[-2.883,-1.216],[-2.961,-1.561],[-2.832,-1.826],[-2.767,-2.1],[-2.341,-2.446],[-2.096,-2.415],[-1.876,-2.568],[-1.295,-2.558],[-1.14,-2.731],[-0.663,-2.639],[-0.547,-2.216],[-0.509,-2.193],[-0.239,-2.163],[-0.133,-2.345],[0.157,-2.436],[0.427,-2.383],[0.928,-2.132],[1.024,-1.98],[1.236,-1.851],[1.506,-1.927],[1.747,-1.881],[1.786,-1.661],[1.901,-1.464],[1.911,-1.236],[1.834,-1.084],[1.699,-0.902],[1.545,-0.735],[1.506,-0.568],[1.506,-0.447],[1.699,-0.264],[1.737,-0.257],[2.027,-0.317],[2.277,-0.287],[2.547,-0.128],[2.508,-0.052],[2.431,0.161],[2.46,0.389],[2.354,0.586],[2.296,0.662],[2.335,0.859],[2.547,0.989],[2.513,1.217],[2.709,1.487],[2.569,1.82],[2.218,1.667]];
    const trajectoryRightTip=[[2.547,0.989],[2.759,0.951],[2.894,0.829],[3.01,0.586]];
    const trajectoryCenter=[[1.116,1.382],[1.013,1.217],[0.732,1.28],[0.48,1.289],[0.438,1.181],[0.436,0.996],[0.291,0.753],[0.243,0.48],[0.368,0.252],[0.426,-0.037],[0.522,-0.264],[0.735,-0.447],[0.677,-0.689],[0.561,-0.78],[0.33,-0.849],[0.156,-0.765],[0.06,-0.689],[-0.133,-0.401],[-0.249,-0.158],[-0.364,-0.112],[-0.509,-0.082]];
    const trajectoryMilestoneLeft=[[0.934,3.068],[1.119,2.973],[1.329,3],[1.531,3.032],[1.652,2.765],[1.573,2.562],[1.498,2.342],[1.237,2.27],[1.119,2.054],[1.223,1.883],[1.265,1.703],[1.293,1.51],[1.116,1.382]];
    const trajectoryMilestoneRight=[[1.498,2.342],[1.686,2.216],[1.848,2.036],[1.896,1.838],[1.904,1.617],[2.092,1.532],[2.218,1.667]];

    const milestonePoints=[[0.934,3.068],[1.119,2.973],[1.329,3],[1.531,3.032],[1.652,2.765],[1.573,2.562],[1.498,2.342],[1.237,2.27],[1.119,2.054],[1.223,1.883],[1.265,1.703],[1.293,1.51],[1.116,1.382],[1.686,2.216],[1.848,2.036],[1.896,1.838],[1.904,1.617],[2.092,1.532],[2.218,1.667]];
    const milestoneLabels=['1','14','12','20','6','5','17','19','0','13','8','7','4','2','9','18','15','3','16'];

    const xTicks=[-4,-2,0,2];
    const yTicks=[-2,0,2,4];
    const scoreTicks=[3,6,9];
    const scoreColors=['#471163','#482475','#414487','#355f8d','#2a788e','#21908d','#22a884','#44bf70','#7ad151'];

    const allCells=[].concat(cellsTop,cellsUpperMid,cellsCenter,cellsRight,cellsLowerMid,cellsBottom,cellsLeft,cellsUpperLeft);
    const trajectories=[trajectoryLeftLoop,trajectoryLower,trajectoryRightTip,trajectoryCenter,trajectoryMilestoneLeft,trajectoryMilestoneRight];

    const sans='"Liberation Sans", Arial, sans-serif';
    const myChart=echarts.init(document.getElementById('main'));

    const plotAxis={
        axisLine:{show:true,onZero:false,lineStyle:{color:'#333',width:4}},
        axisTick:{show:true,length:8,lineStyle:{color:'#333',width:4}},
        splitLine:{show:false},
    };
    const barTick={show:true,length:16,customValues:scoreTicks,lineStyle:{color:'#fff',width:2}};
    const minusLabel=d=>String(d).replace('-','\u2212');

    const option={
        animation:false,
        backgroundColor:'#fff',
        title:{
            text:'Module 34',
            left:633,
            top:61,
            textStyle:{fontFamily:'"Noto Sans"',fontSize:149,fontWeight:'normal',color:'#000'},
        },
        grid:[
            {left:245,right:408,top:352,bottom:200,outerBoundsMode:'none'},
            {left:1687,width:72,top:1038,height:367,outerBoundsMode:'none'},
        ],
        xAxis:[
            {
                ...plotAxis,
                type:'value',gridIndex:0,min:-4.5,max:3.55,
                axisTick:{...plotAxis.axisTick,customValues:xTicks},
                axisLabel:{customValues:xTicks,formatter:minusLabel,color:'#4d4d4d',fontSize:80,fontFamily:sans,margin:37},
                name:'UMAP 1',nameLocation:'middle',nameGap:110,nameMoveOverlap:false,
                nameTextStyle:{color:'#1a1a1a',fontSize:92.5,fontFamily:sans,padding:[0,0,0,22]},
            },
            {type:'value',gridIndex:1,show:false,min:0,max:1},
        ],
        yAxis:[
            {
                ...plotAxis,
                type:'value',gridIndex:0,min:-3.535,max:4.1,
                axisTick:{...plotAxis.axisTick,customValues:yTicks},
                axisLabel:{customValues:yTicks,formatter:minusLabel,color:'#4d4d4d',fontSize:80,fontFamily:sans,margin:32},
                name:'UMAP 2',nameLocation:'middle',nameGap:127,nameMoveOverlap:false,
                nameTextStyle:{color:'#1a1a1a',fontSize:94,fontFamily:sans},
            },
            // colour bar ticks sit on top of the visualMap
            {
                type:'value',gridIndex:1,position:'right',min:1.07,max:11.97,z:10,
                axisLine:{show:false},splitLine:{show:false},axisTick:{show:false},
                axisLabel:{customValues:scoreTicks,color:'#222',fontSize:52,fontFamily:sans,margin:24},
            },
            {
                type:'value',gridIndex:1,position:'left',min:1.07,max:11.97,z:10,
                axisLine:{show:false},splitLine:{show:false},axisLabel:{show:false},
                axisTick:{...barTick,inside:true},
            },
            {
                type:'value',gridIndex:1,position:'left',offset:-72,min:1.07,max:11.97,z:10,
                axisLine:{show:false},splitLine:{show:false},axisLabel:{show:false},
                axisTick:barTick,
            },
        ],
        visualMap:{
            type:'continuous',
            seriesIndex:0,
            dimension:2,
            min:1.07,max:11.97,
            left:1687,top:1038,
            itemWidth:72,itemHeight:367,
            padding:0,
            calculable:false,
            hoverLink:false,
            showLabel:false,
            inRange:{color:scoreColors},
        },
        graphic:[
            {type:'text',left:22,top:56,style:{text:'D',fontFamily:sans,fontWeight:900,fontSize:200,fill:'#231f20'}},
            {type:'rect',shape:{x:641,y:215,width:729,height:12},style:{fill:'#231f20'}},
            {type:'text',left:1681,top:852,style:{text:'Expression\nscore',fontFamily:sans,fontSize:65.5,lineHeight:79,fill:'#1a1a1a'}},
            {
                type:'text',x:811,y:1591,z:100,
                style:{
                    rich:{a:{fontFamily:sans,fontSize:21.3,fill:'#000',fontWeight:'normal'},b:{fontFamily:sans,fontSize:21.3,fill:'#00f',fontWeight:'normal'}},
                    text:'{a|bioRxiv preprint doi: }{b|https://doi.org/10.1101/2020.10.12.336784}{a|; this version posted October 12, 2020. The copyright holder for this preprint}',
                    align:'center',verticalAlign:'middle',
                },
            },
            {
                type:'text',x:807,y:1613,z:100,
                style:{
                    text:'(which was not certified by peer review) is the author/funder. All rights reserved. No reuse allowed without permission.',
                    fontFamily:sans,fontSize:21.3,fill:'#000',align:'center',verticalAlign:'middle',
                },
            },
        ],
        series:[
            {type:'scatter',xAxisIndex:0,yAxisIndex:0,data:allCells,symbolSize:19,itemStyle:{opacity:1},z:2,silent:true},
            ...trajectories.map(path=>({
                type:'line',xAxisIndex:0,yAxisIndex:0,data:path,showSymbol:false,symbol:'none',z:3,silent:true,
                lineStyle:{color:'#444',width:14,join:'round'},
            })),
            {
                type:'scatter',xAxisIndex:0,yAxisIndex:0,z:4,silent:true,
                data:milestonePoints.map((p,i)=>({value:p,name:milestoneLabels[i]})),
                symbolSize:39,
                itemStyle:{color:'#000',opacity:1},
                label:{show:true,position:'inside',formatter:'{b}',color:'#fff',fontSize:15,fontWeight:'bold',fontFamily:sans},
            },
        ],
    };

    myChart.setOption(option);
</script>
</body>
</html>
